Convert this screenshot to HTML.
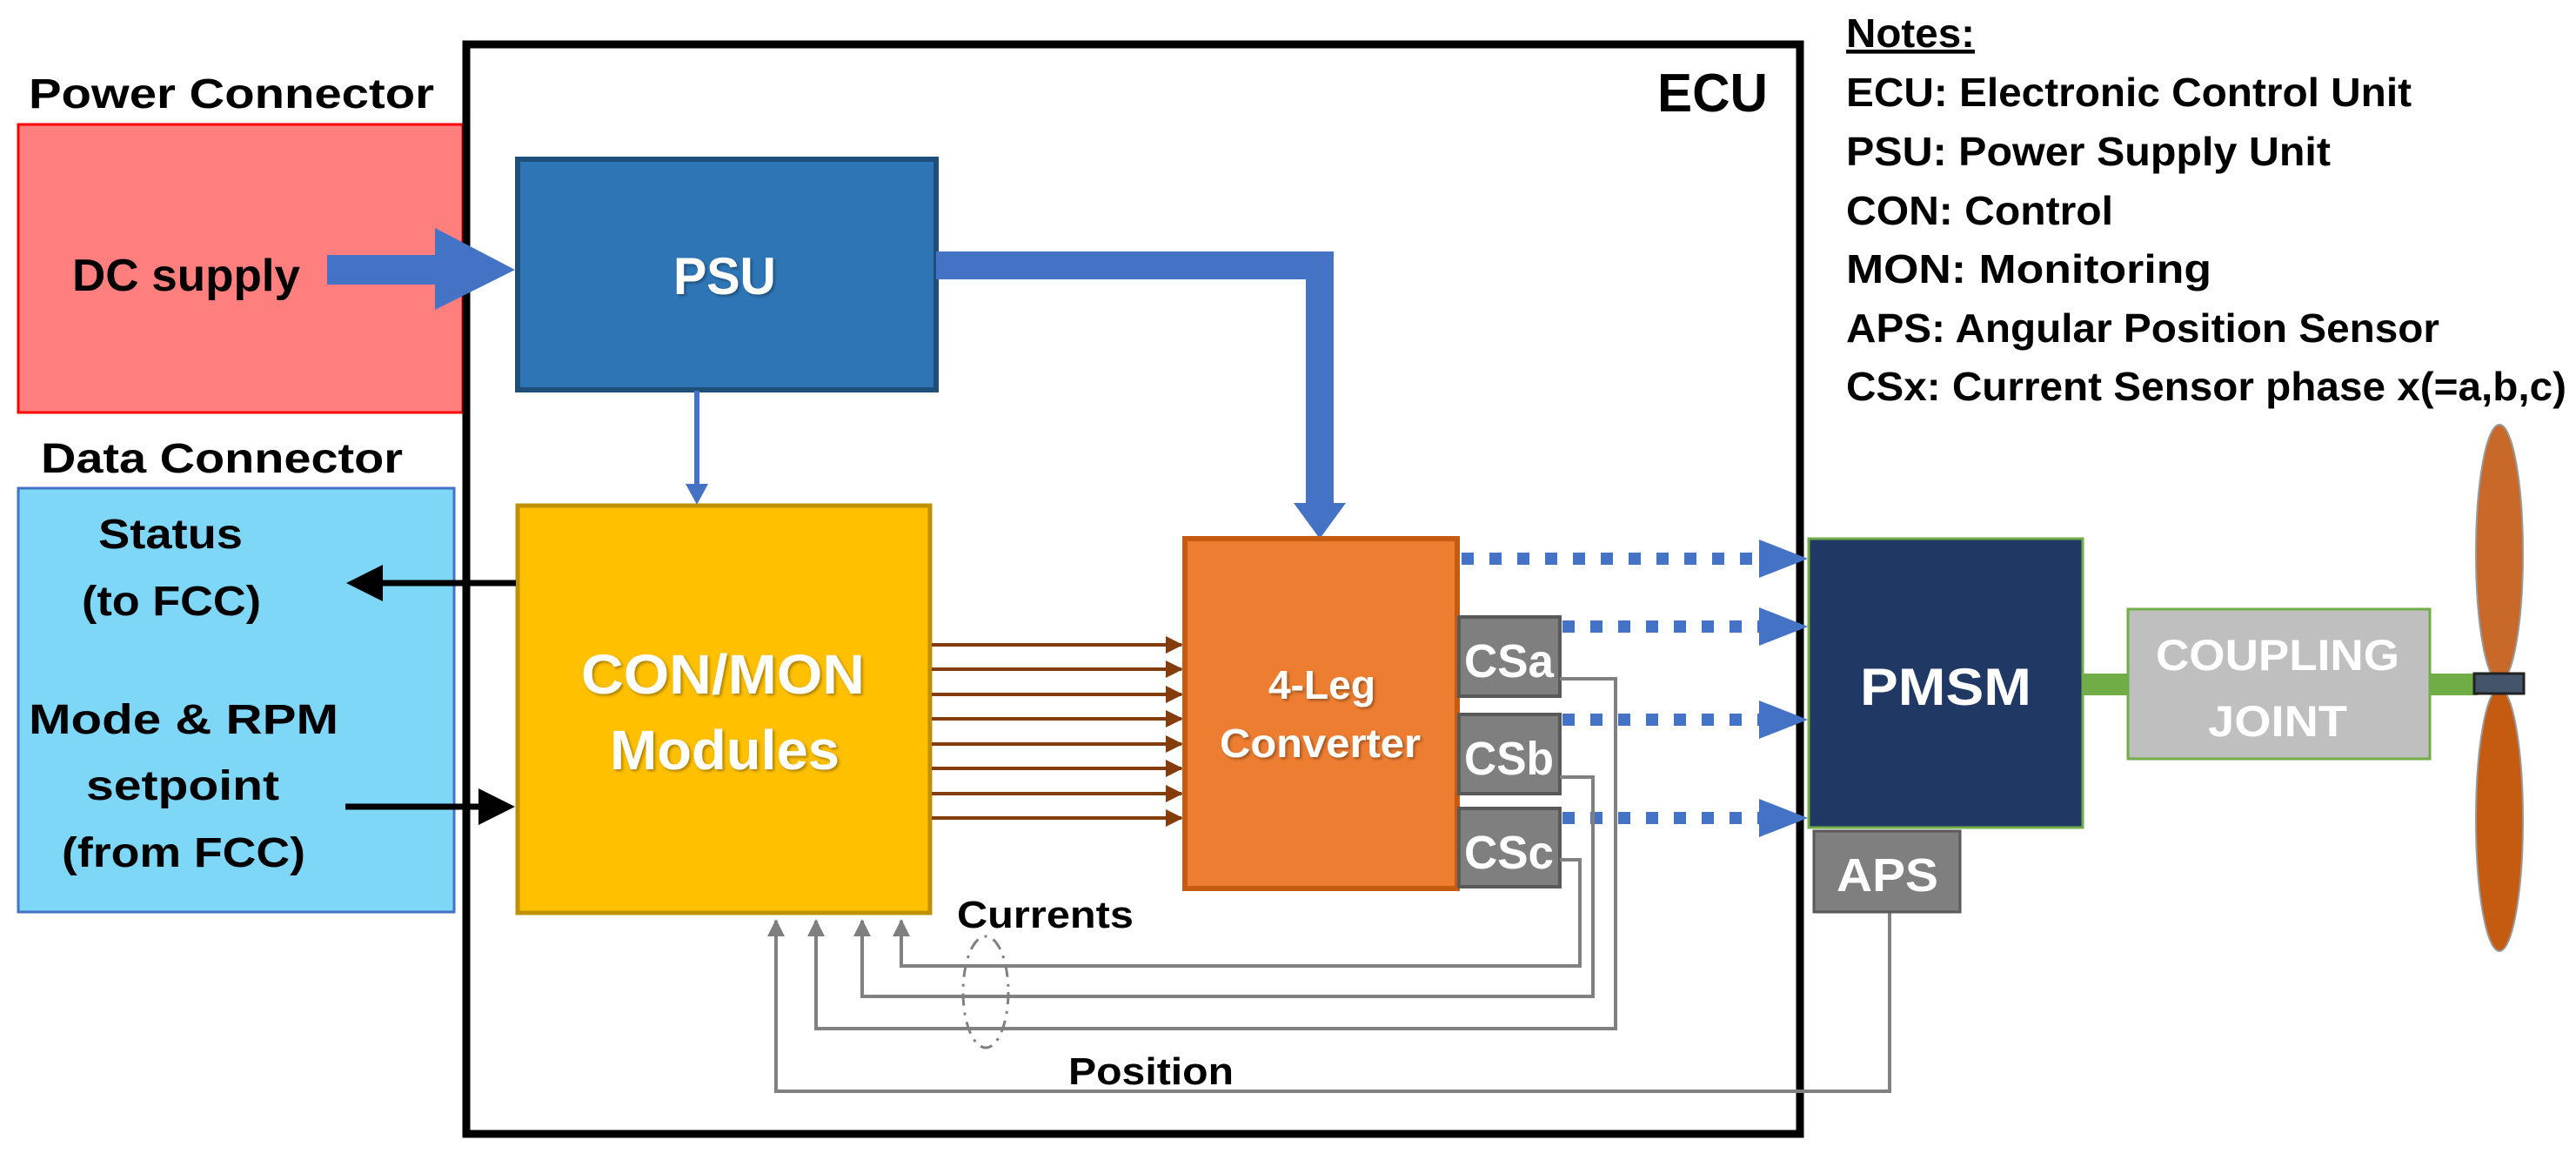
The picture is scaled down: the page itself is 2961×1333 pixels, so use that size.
<!DOCTYPE html>
<html><head><meta charset="utf-8"><style>
html,body{margin:0;padding:0;background:#fff;}
svg{display:block;}
text{font-family:"Liberation Sans",sans-serif;font-weight:bold;}
</style></head><body>
<svg width="2961" height="1333" viewBox="0 0 2961 1333" xmlns="http://www.w3.org/2000/svg">
<defs>
<marker id="bk" markerWidth="6" markerHeight="6" refX="5" refY="3" orient="auto" markerUnits="strokeWidth"><path d="M0,0 L6,3 L0,6 z" fill="#000"/></marker>
<marker id="br" markerWidth="5" markerHeight="5" refX="4.5" refY="2.5" orient="auto" markerUnits="strokeWidth"><path d="M0,0 L5,2.5 L0,5 z" fill="#843c0c"/></marker>
<marker id="gy" markerWidth="5" markerHeight="5" refX="4.5" refY="2.5" orient="auto" markerUnits="strokeWidth"><path d="M0,0 L5,2.5 L0,5 z" fill="#7f7f7f"/></marker>
<filter id="sh"><feDropShadow dx="2" dy="2" stdDeviation="1.5" flood-color="#000" flood-opacity="0.35"/></filter>
</defs>

<!-- connectors left -->
<text x="33" y="124" font-size="48" textLength="466" lengthAdjust="spacingAndGlyphs">Power Connector</text>
<rect x="21" y="143" width="511" height="331" fill="#ff7f7f" stroke="#ff0000" stroke-width="3"/>
<text x="83" y="334" font-size="52" textLength="262" lengthAdjust="spacingAndGlyphs">DC supply</text>
<text x="47" y="543" font-size="48" textLength="416" lengthAdjust="spacingAndGlyphs">Data Connector</text>
<rect x="21" y="561" width="501" height="487" fill="#7fd7f7" stroke="#4472c4" stroke-width="3"/>
<text x="113" y="630" font-size="48" textLength="166" lengthAdjust="spacingAndGlyphs">Status</text>
<text x="94" y="707" font-size="48" textLength="206" lengthAdjust="spacingAndGlyphs">(to FCC)</text>
<text x="33" y="843" font-size="48" textLength="356" lengthAdjust="spacingAndGlyphs">Mode &amp; RPM</text>
<text x="99" y="919" font-size="48" textLength="222" lengthAdjust="spacingAndGlyphs">setpoint</text>
<text x="71" y="996" font-size="48" textLength="280" lengthAdjust="spacingAndGlyphs">(from FCC)</text>

<!-- ECU -->
<rect x="536" y="51" width="1533" height="1252" fill="none" stroke="#000" stroke-width="9"/>
<text x="1905" y="128" font-size="62" textLength="127" lengthAdjust="spacingAndGlyphs">ECU</text>

<!-- DC arrow -->
<path d="M376,293 L500,293 L500,262 L592,310 L500,356 L500,327 L376,327 z" fill="#4472c4"/>

<!-- PSU -->
<rect x="595" y="183" width="481" height="265" fill="#2e75b6" stroke="#1f4e79" stroke-width="6"/>
<text x="774" y="338" font-size="60" fill="#fff" textLength="118" lengthAdjust="spacingAndGlyphs" filter="url(#sh)">PSU</text>

<!-- PSU to converter thick -->
<path d="M1076,289 L1533,289 L1533,578 L1547,578 L1517,619 L1487,578 L1501,578 L1501,321 L1076,321 z" fill="#4472c4"/>
<!-- PSU to CON thin -->
<line x1="801" y1="449" x2="801" y2="560" stroke="#4472c4" stroke-width="6"/>
<path d="M788,556 L814,556 L801,580 z" fill="#4472c4"/>

<!-- CON/MON -->
<rect x="595" y="581" width="474" height="468" fill="#ffc000" stroke="#bf9000" stroke-width="5"/>
<text x="668" y="797" font-size="64" fill="#fff" textLength="326" lengthAdjust="spacingAndGlyphs" filter="url(#sh)">CON/MON</text>
<text x="701" y="884" font-size="64" fill="#fff" textLength="264" lengthAdjust="spacingAndGlyphs" filter="url(#sh)">Modules</text>

<!-- status / mode arrows -->
<line x1="593" y1="670" x2="405" y2="670" stroke="#000" stroke-width="7" marker-end="url(#bk)"/>
<line x1="397" y1="927" x2="585" y2="927" stroke="#000" stroke-width="7" marker-end="url(#bk)"/>

<!-- brown arrows -->
<g stroke="#843c0c" stroke-width="4" marker-end="url(#br)">
<line x1="1071" y1="741" x2="1358" y2="741"/>
<line x1="1071" y1="769" x2="1358" y2="769"/>
<line x1="1071" y1="798" x2="1358" y2="798"/>
<line x1="1071" y1="826" x2="1358" y2="826"/>
<line x1="1071" y1="855" x2="1358" y2="855"/>
<line x1="1071" y1="883" x2="1358" y2="883"/>
<line x1="1071" y1="912" x2="1358" y2="912"/>
<line x1="1071" y1="940" x2="1358" y2="940"/>
</g>

<!-- converter -->
<rect x="1362" y="619" width="313" height="402" fill="#ed7d31" stroke="#c55a11" stroke-width="6"/>
<text x="1458" y="803" font-size="46" fill="#fff" textLength="123" lengthAdjust="spacingAndGlyphs" filter="url(#sh)">4-Leg</text>
<text x="1402" y="870" font-size="46" fill="#fff" textLength="231" lengthAdjust="spacingAndGlyphs" filter="url(#sh)">Converter</text>
<g fill="#7f7f7f" stroke="#595959" stroke-width="4">
<rect x="1677" y="709" width="116" height="91"/>
<rect x="1677" y="821" width="116" height="91"/>
<rect x="1677" y="929" width="116" height="90"/>
</g>
<g font-size="54" fill="#fff">
<text x="1683" y="778" textLength="103" lengthAdjust="spacingAndGlyphs">CSa</text>
<text x="1683" y="890" textLength="103" lengthAdjust="spacingAndGlyphs">CSb</text>
<text x="1683" y="998" textLength="103" lengthAdjust="spacingAndGlyphs">CSc</text>
</g>

<!-- dotted blue -->
<g stroke="#4472c4" stroke-width="14" stroke-dasharray="14 18" fill="none">
<line x1="1680" y1="642" x2="2030" y2="642"/>
<line x1="1796" y1="720" x2="2030" y2="720"/>
<line x1="1796" y1="827" x2="2030" y2="827"/>
<line x1="1796" y1="940" x2="2030" y2="940"/>
</g>
<g fill="#4472c4">
<path d="M2022,620 L2078,642 L2022,664 z"/>
<path d="M2022,698 L2078,720 L2022,742 z"/>
<path d="M2022,805 L2078,827 L2022,849 z"/>
<path d="M2022,918 L2078,940 L2022,962 z"/>
</g>

<!-- feedback lines -->
<g stroke="#808080" stroke-width="4" fill="none" marker-end="url(#gy)">
<polyline points="1793,780 1857,780 1857,1182 938,1182 938,1058"/>
<polyline points="1793,893 1831,893 1831,1145 991,1145 991,1058"/>
<polyline points="1793,988 1816,988 1816,1110 1036,1110 1036,1058"/>
<polyline points="2172,1048 2172,1254 892,1254 892,1058"/>
</g>
<ellipse cx="1133" cy="1140" rx="26" ry="64" fill="none" stroke="#808080" stroke-width="3" stroke-dasharray="14 8 3 8"/>
<text x="1100" y="1066" font-size="44" textLength="203" lengthAdjust="spacingAndGlyphs">Currents</text>
<text x="1228" y="1246" font-size="44" textLength="190" lengthAdjust="spacingAndGlyphs">Position</text>

<!-- PMSM -->
<rect x="2394" y="774" width="51" height="25" fill="#70ad47"/>
<rect x="2793" y="774" width="55" height="25" fill="#70ad47"/>
<rect x="2079" y="619" width="315" height="332" fill="#1f3864" stroke="#70ad47" stroke-width="3"/>
<text x="2138" y="810" font-size="60" fill="#fff" textLength="197" lengthAdjust="spacingAndGlyphs">PMSM</text>
<rect x="2085" y="955" width="168" height="93" fill="#7f7f7f" stroke="#595959" stroke-width="3"/>
<text x="2111" y="1024" font-size="54" fill="#fff" textLength="117" lengthAdjust="spacingAndGlyphs">APS</text>
<rect x="2446" y="700" width="347" height="172" fill="#bfbfbf" stroke="#70ad47" stroke-width="3"/>
<text x="2478" y="770" font-size="50" fill="#fff" textLength="280" lengthAdjust="spacingAndGlyphs">COUPLING</text>
<text x="2538" y="846" font-size="50" fill="#fff" textLength="160" lengthAdjust="spacingAndGlyphs">JOINT</text>

<!-- propeller -->
<ellipse cx="2873" cy="636" rx="27" ry="148" fill="#c8692a" stroke="#999" stroke-width="2"/>
<ellipse cx="2873" cy="942" rx="27" ry="151" fill="#c55a11" stroke="#999" stroke-width="2"/>
<rect x="2844" y="774" width="57" height="23" fill="#44546a" stroke="#222" stroke-width="3"/>

<!-- notes -->
<g font-size="46">
<text x="2122" y="54" text-decoration="underline" textLength="148" lengthAdjust="spacingAndGlyphs">Notes:</text>
<text x="2122" y="122" textLength="650" lengthAdjust="spacingAndGlyphs">ECU: Electronic Control Unit</text>
<text x="2122" y="190" textLength="557" lengthAdjust="spacingAndGlyphs">PSU: Power Supply Unit</text>
<text x="2122" y="258" textLength="307" lengthAdjust="spacingAndGlyphs">CON: Control</text>
<text x="2122" y="325" textLength="420" lengthAdjust="spacingAndGlyphs">MON: Monitoring</text>
<text x="2122" y="393" textLength="682" lengthAdjust="spacingAndGlyphs">APS: Angular Position Sensor</text>
<text x="2122" y="460" textLength="828" lengthAdjust="spacingAndGlyphs">CSx: Current Sensor phase x(=a,b,c)</text>
</g>
</svg>
</body></html>
